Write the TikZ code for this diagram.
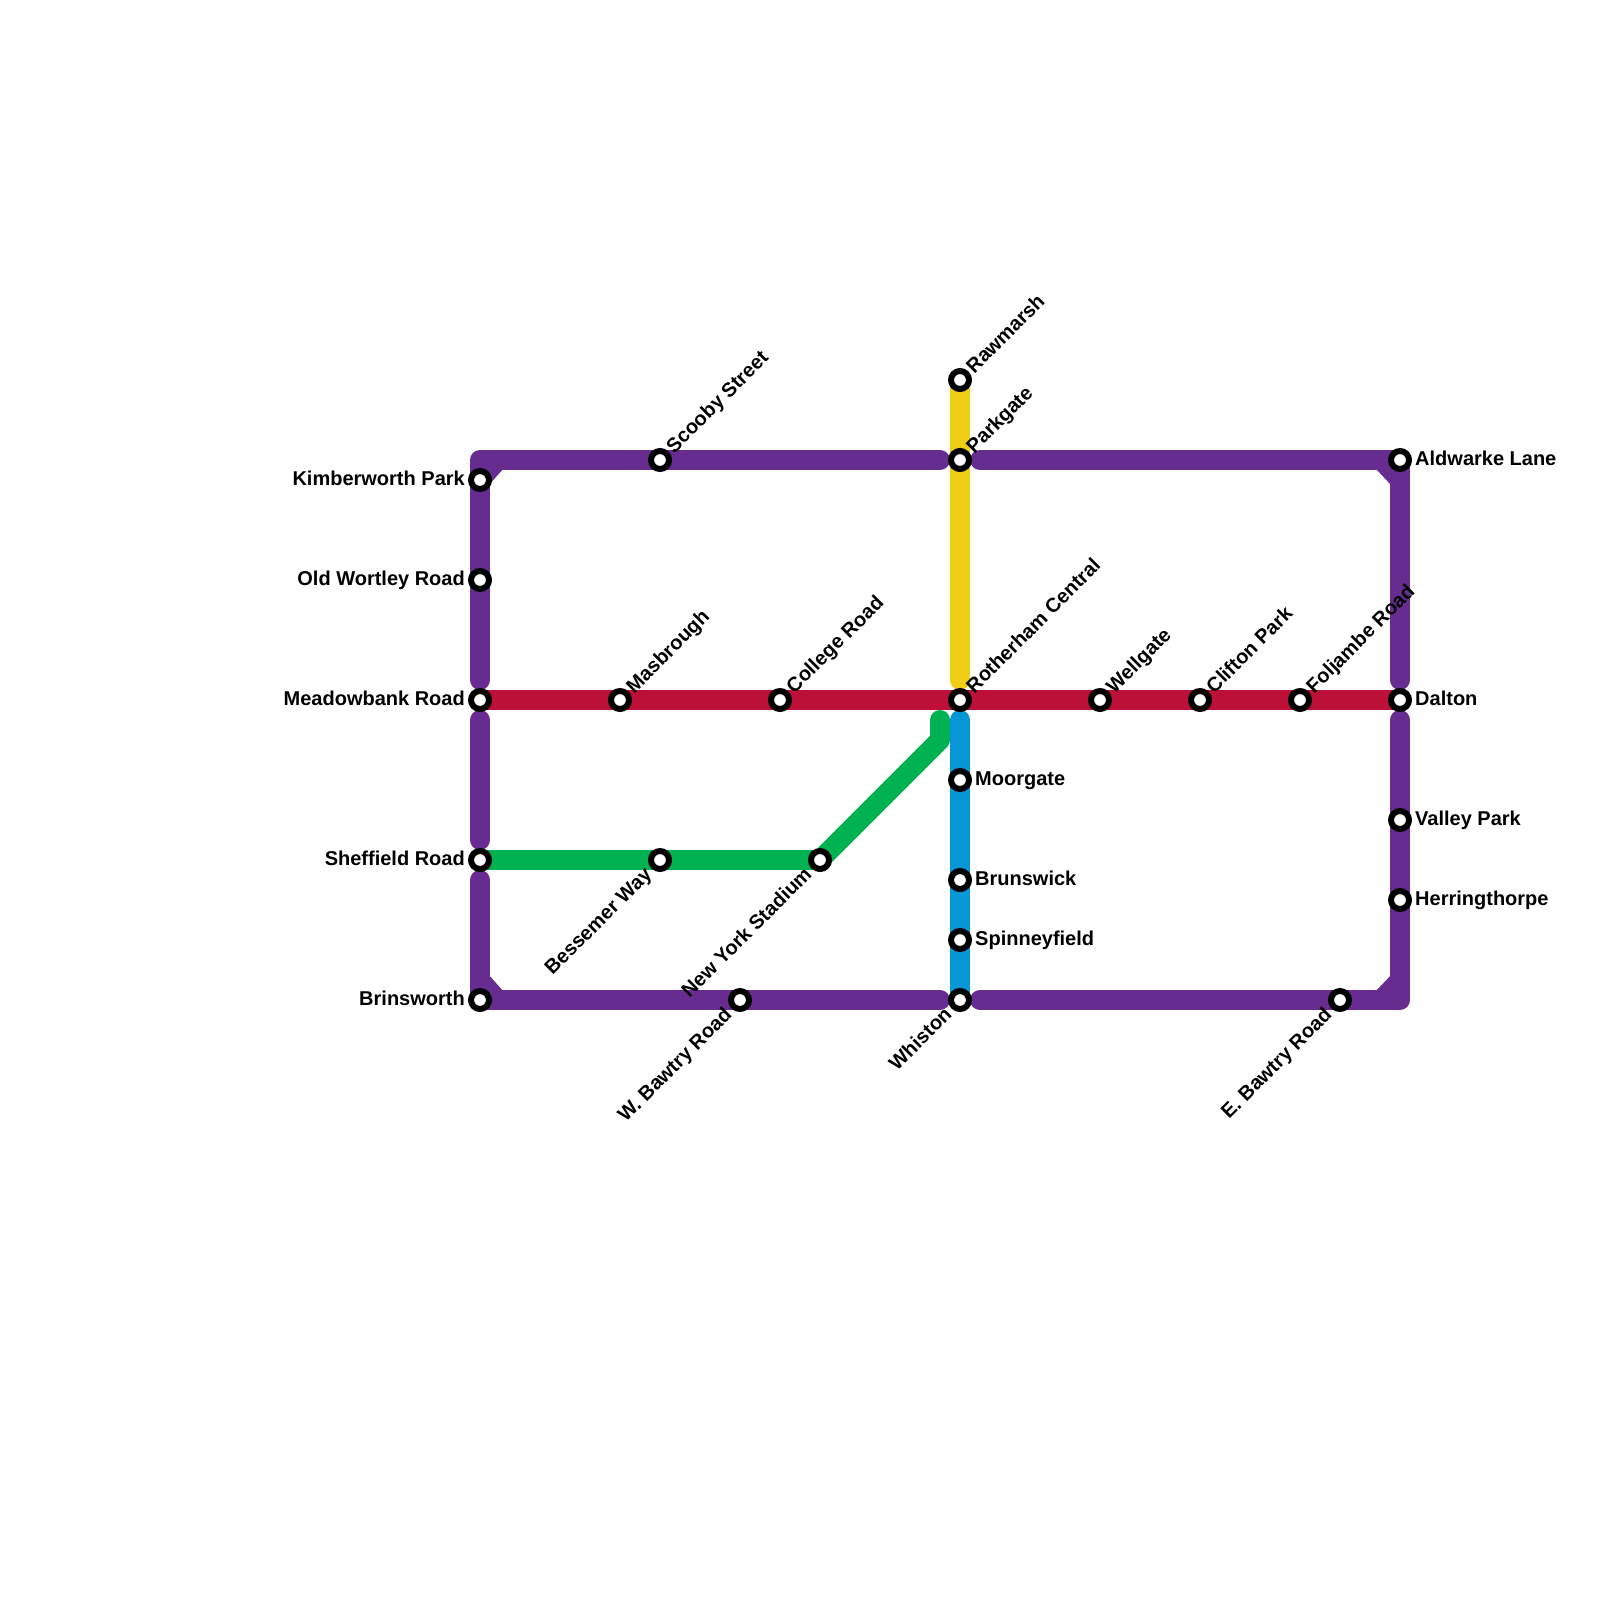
\documentclass[tikz,border=0pt]{standalone}
\usepackage{fontspec}
\setmainfont{Liberation Sans}
\usetikzlibrary{backgrounds}
\definecolor{lpurple}{HTML}{662C90}
\definecolor{lred}{HTML}{BD1038}
\definecolor{lgreen}{HTML}{00B251}
\definecolor{lblue}{HTML}{0896D7}
\definecolor{lyellow}{HTML}{F0CE15}
\tikzset{
  x=1pt,y=-1pt,
  stn/.style={circle,draw=black,fill=white,line width=6pt,minimum size=18pt,inner sep=0pt},
  lb/.style={font=\fontsize{20}{22}\selectfont\bfseries,text=black,inner sep=0pt},
  lbr/.style={lb,anchor=base west,xshift=15pt,yshift=-5pt},
  lbl/.style={lb,anchor=base east,xshift=-15pt,yshift=-5pt},
  lbu/.style={lb,anchor=base west,rotate=45,xshift=14pt,yshift=-6pt},
  lbd/.style={lb,anchor=base east,rotate=45,xshift=-16pt,yshift=-6pt},
  metro/.style={line width=20pt,line cap=round,line join=round},
  chamfer/.style={fill=lpurple,draw=none},
}
\begin{document}
\begin{tikzpicture}
\useasboundingbox (0,0) rectangle (1600,1600);
% stations
\node[stn] (kimb) at (480,480) {};
\node[stn] (oldw) at (480,580) {};
\node[stn] (mead) at (480,700) {};
\node[stn] (shef) at (480,860) {};
\node[stn] (brin) at (480,1000) {};
\node[stn] (scoo) at (660,460) {};
\node[stn] (masb) at (620,700) {};
\node[stn] (coll) at (780,700) {};
\node[stn] (bess) at (660,860) {};
\node[stn] (newy) at (820,860) {};
\node[stn] (wbaw) at (740,1000) {};
\node[stn] (rawm) at (960,380) {};
\node[stn] (park) at (960,460) {};
\node[stn] (roth) at (960,700) {};
\node[stn] (moor) at (960,780) {};
\node[stn] (brun) at (960,880) {};
\node[stn] (spin) at (960,940) {};
\node[stn] (whis) at (960,1000) {};
\node[stn] (well) at (1100,700) {};
\node[stn] (clif) at (1200,700) {};
\node[stn] (folj) at (1300,700) {};
\node[stn] (ebaw) at (1340,1000) {};
\node[stn] (aldw) at (1400,460) {};
\node[stn] (dalt) at (1400,700) {};
\node[stn] (vall) at (1400,820) {};
\node[stn] (herr) at (1400,900) {};
% labels
\node[lbl] (t1) at (kimb.center) {Kimberworth Park};
\node[lbl] (t2) at (oldw.center) {Old Wortley Road};
\node[lbl] (t3) at (mead.center) {Meadowbank Road};
\node[lbl] (t4) at (shef.center) {Sheffield Road};
\node[lbl] (t5) at (brin.center) {Brinsworth};
\node[lbu] (t6) at (scoo.center) {Scooby Street};
\node[lbu] (t7) at (masb.center) {Masbrough};
\node[lbu] (t8) at (coll.center) {College Road};
\node[lbd] (t9) at (bess.center) {Bessemer Way};
\node[lbd] (t10) at (newy.center) {New York Stadium};
\node[lbd] (t11) at (wbaw.center) {W. Bawtry Road};
\node[lbu] (t12) at (rawm.center) {Rawmarsh};
\node[lbu] (t13) at (park.center) {Parkgate};
\node[lbu] (t14) at (roth.center) {Rotherham Central};
\node[lbr] (t15) at (moor.center) {Moorgate};
\node[lbr] (t16) at (brun.center) {Brunswick};
\node[lbr] (t17) at (spin.center) {Spinneyfield};
\node[lbd] (t18) at (whis.center) {Whiston};
\node[lbu] (t19) at (well.center) {Wellgate};
\node[lbu] (t20) at (clif.center) {Clifton Park};
\node[lbu] (t21) at (folj.center) {Foljambe Road};
\node[lbd] (t22) at (ebaw.center) {E. Bawtry Road};
\node[lbr] (t23) at (aldw.center) {Aldwarke Lane};
\node[lbr] (t24) at (dalt.center) {Dalton};
\node[lbr] (t25) at (vall.center) {Valley Park};
\node[lbr] (t26) at (herr.center) {Herringthorpe};
% free ends
\coordinate (ctl) at (480,460);
\coordinate (cbl) at (480,1000);
\coordinate (cbr) at (1400,1000);
\coordinate (pa) at (480,680);
\coordinate (pb) at (940,460);
\coordinate (pc) at (980,460);
\coordinate (pd) at (1400,680);
\coordinate (pe) at (480,720);
\coordinate (pf) at (480,840);
\coordinate (pg) at (480,880);
\coordinate (ph) at (940,1000);
\coordinate (pi) at (980,1000);
\coordinate (pj) at (1400,720);
\coordinate (ga) at (940,740);
\coordinate (gb) at (940,720);
\coordinate (ya) at (960,680);
\coordinate (ba) at (960,720);
\begin{scope}[on background layer]
  \draw[metro,lpurple] (pa) -- (ctl) -- (pb);
  \draw[metro,lpurple] (pc) -- (aldw.center) -- (pd);
  \draw[metro,lpurple] (pe) -- (pf);
  \draw[metro,lpurple] (pg) -- (cbl) -- (ph);
  \draw[metro,lpurple] (pi) -- (cbr) -- (pj);
  \fill[chamfer] (488,468) -- (504,468) -- (488,486) -- cycle;
  \fill[chamfer] (1392,468) -- (1375,468) -- (1392,486) -- cycle;
  \fill[chamfer] (488,992) -- (504,992) -- (488,974) -- cycle;
  \fill[chamfer] (1392,992) -- (1375,992) -- (1392,974) -- cycle;
  \draw[line width=20pt,lred] (mead.center) -- (dalt.center);
  \draw[metro,lgreen,line cap=butt] (shef.center) -- (newy.center);
  \draw[metro,lgreen] (newy.center) -- (ga) -- (gb);
  \draw[metro,lyellow] (rawm.center) -- (ya);
  \draw[metro,lblue] (ba) -- (whis.center);
\end{scope}
\end{tikzpicture}
\end{document}
